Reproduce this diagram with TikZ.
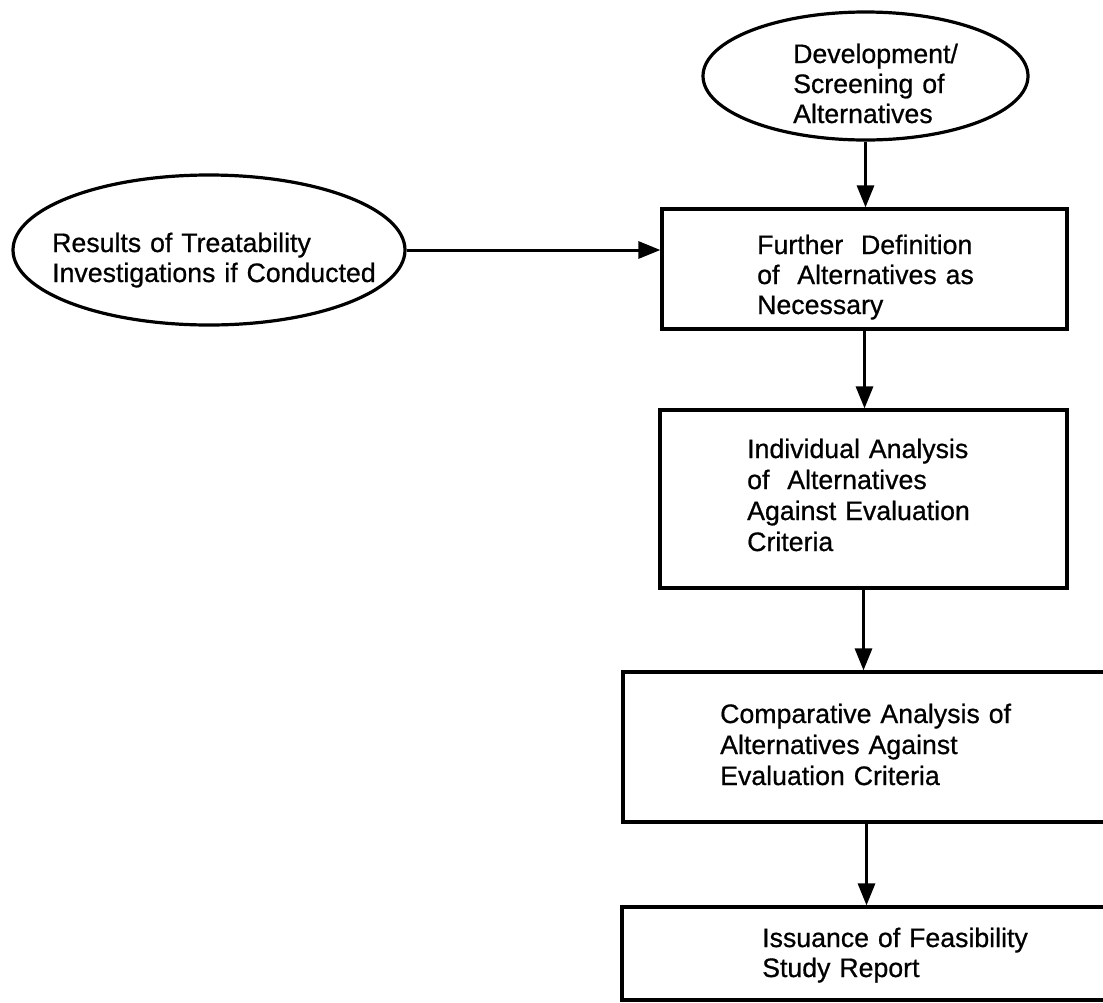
\documentclass[tikz,border=0pt]{standalone}
\usepackage{fontspec}
\setmainfont{Liberation Sans}[FakeBold=0.7]
\usetikzlibrary{arrows.meta,shapes.geometric}
\begin{document}
\begin{tikzpicture}[x=1pt,y=-1pt,
  box/.style={draw,line width=3.2pt,rectangle,inner sep=0pt},
  oval/.style={draw,line width=3.2pt,ellipse,inner sep=0pt},
  lbl/.style={anchor=base west,inner sep=0pt,text width=340pt,align=left,font=\fontsize{26.7}{30}\selectfont},
  lblwide/.style={lbl,font=\fontsize{26.7}{31}\selectfont},
  arr/.style={line width=3pt,-{Triangle[length=22pt,width=17pt]}}]
\useasboundingbox (0,0) rectangle (1103,1002);
\clip (0,0) rectangle (1103,1002);

% shapes
\node[oval,minimum width=325pt,minimum height=128pt] (dev) at (865.5,76) {};
\node[oval,minimum width=392pt,minimum height=150pt] (res) at (209,250) {};
\node[box,minimum width=405pt,minimum height=120pt] (b1) at (864.5,269) {};
\node[box,minimum width=407pt,minimum height=178pt] (b2) at (863.5,499) {};
\node[box,minimum width=487pt,minimum height=150pt] (b3) at (866.5,747) {};
\node[box,minimum width=488pt,minimum height=93pt] (b4) at (866,953.5) {};

% texts
\node[lbl] (tdev) at (793,63) {Development/\\Screening of\\Alternatives};
\node[lbl] (tres) at (52,252) {Results of Treatability\\Investigations if Conducted};
\node[lbl] (tb1) at (757,254) {Further\ \ Definition\\of\ \ Alternatives as\\Necessary};
\node[lblwide] (tb2) at (747,458) {Individual Analysis\\of\ \ Alternatives\\Against Evaluation\\Criteria};
\node[lblwide] (tb3) at (720,723) {Comparative Analysis of\\Alternatives Against\\Evaluation Criteria};
\node[lbl] (tb4) at (762,947) {Issuance of Feasibility\\Study Report};

% connectors
\draw[arr] (dev.south) -- (dev.south |- b1.north);
\draw[arr] (res.east) -- (res.east -| b1.west);
\draw[arr] (b1.south) -- (b1.south |- b2.north);
\draw[arr] (b2.south) -- (b2.south |- b3.north);
\draw[arr] (b3.south) -- (b3.south |- b4.north);
\end{tikzpicture}
\end{document}
